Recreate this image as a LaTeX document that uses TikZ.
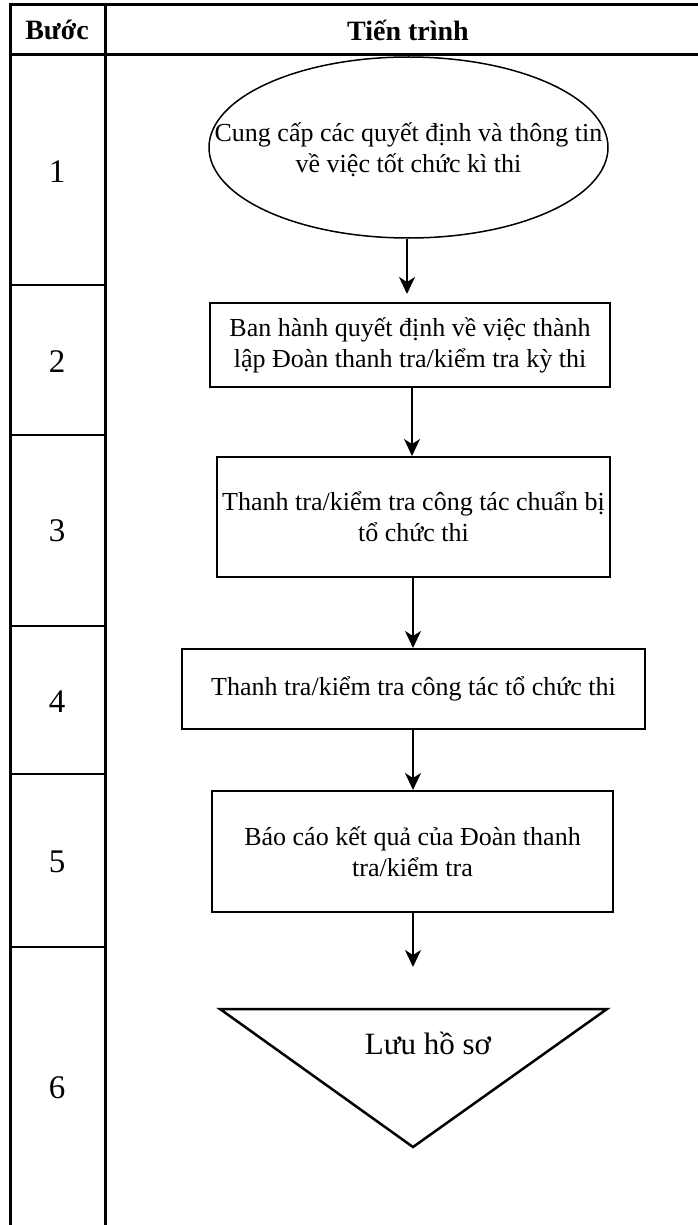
\documentclass[tikz,border=0pt]{standalone}
\usepackage{fontspec}
\setmainfont{Liberation Serif}
\usetikzlibrary{shapes.geometric,arrows.meta}
\begin{document}
\begin{tikzpicture}[x=1pt,y=-1pt,
  tline/.style={line width=3pt},
  rline/.style={line width=2.2pt},
  procbox/.style={draw,line width=2pt,inner sep=0pt,align=center,font=\fontsize{26}{31}\selectfont},
  flow/.style={line width=1.6pt,-{Stealth[length=17pt,width=16pt,inset=5pt]}},
  steplabel/.style={font=\fontsize{33}{36}\selectfont},
  headlabel/.style={font=\bfseries\fontsize{28}{32}\selectfont}]
\useasboundingbox[fill=white] (0,0) rectangle (698,1225);
% table frame
\draw[tline] (8.5,5) -- (698,5);
\draw[tline] (8.5,55) -- (698,55);
\draw[tline] (10,5) -- (10,1225);
\draw[tline] (105,5) -- (105,1225);
\foreach \yy in {285,435,626,774,947} \draw[rline] (10,\yy) -- (105,\yy);
% header
\node[headlabel] (hstep) at (57,30) {Bước};
\node[headlabel] (hproc) at (408,30) {Tiến trình};
% step numbers
\node[steplabel] (n1) at (57,172) {1};
\node[steplabel] (n2) at (57,362) {2};
\node[steplabel] (n3) at (57,531) {3};
\node[steplabel] (n4) at (57,702) {4};
\node[steplabel] (n5) at (57,862) {5};
\node[steplabel] (n6) at (57,1088) {6};
% flow nodes
\node[draw,ellipse,line width=1.5pt,inner sep=0pt,minimum width=399pt,minimum height=181pt] (e) at (408.5,147.5) {};
\node[align=center,inner sep=0pt,font=\fontsize{26}{31}\selectfont] (etext) at (408.5,150) {Cung cấp các quyết định và thông tin\\về việc tốt chức kì thi};
\node[procbox,minimum width=400pt,minimum height=84pt] (b2) at (410,345) {Ban hành quyết định về việc thành\\lập Đoàn thanh tra/kiểm tra kỳ thi};
\node[procbox,minimum width=393pt,minimum height=120pt] (b3) at (413.5,517) {Thanh tra/kiểm tra công tác chuẩn bị\\tổ chức thi};
\node[procbox,minimum width=463pt,minimum height=80pt] (b4) at (413.5,689) {Thanh tra/kiểm tra công tác tổ chức thi};
\node[procbox,minimum width=401pt,minimum height=121pt] (b5) at (412.5,851.5) {Báo cáo kết quả của Đoàn thanh\\tra/kiểm tra};
\draw[line width=2.5pt,line join=miter] (220,1009) -- (607,1009) -- (413,1147) -- cycle;
\node[font=\fontsize{31}{36}\selectfont] (t6) at (428,1043) {Lưu hồ sơ};
\coordinate (a5end) at (413,967);
% connectors
\draw[flow,shorten >=8pt] (e.south -| 407,0) -- (b2.north -| 407,0);
\draw[flow] (b2.south -| 412,0) -- (b3.north -| 412,0);
\draw[flow] (b3.south -| 413,0) -- (b4.north -| 413,0);
\draw[flow] (b4.south -| 413,0) -- (b5.north -| 413,0);
\draw[flow] (b5.south -| 413,0) -- (a5end);
\end{tikzpicture}
\end{document}
